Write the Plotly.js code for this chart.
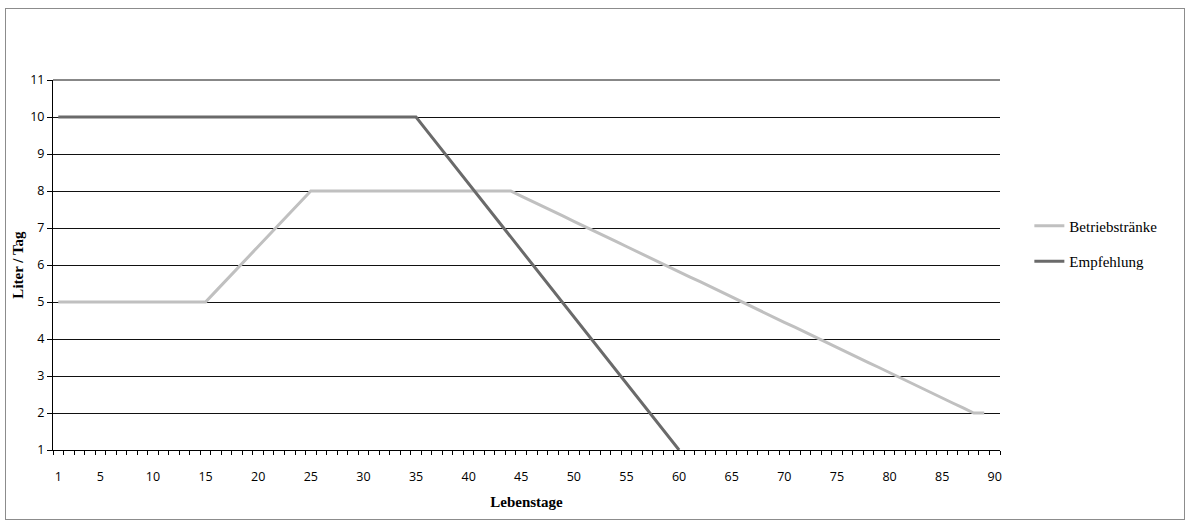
<!DOCTYPE html>
<html>
<head>
<meta charset="utf-8">
<script src="https://cdn.plot.ly/plotly-3.0.1.min.js"></script>
<style>
  html, body { margin: 0; padding: 0; background: #fff; }
  #wrap { position: relative; width: 1190px; height: 525px; }
  #chart { width: 1190px; height: 525px; }
  #frame { position: absolute; left: 5px; top: 8px; width: 1180px; height: 512px;
           border: 1px solid #8c8c8c; pointer-events: none; box-sizing: border-box; }
</style>
</head>
<body>
<div id="wrap">
  <div id="chart"></div>
  <div id="frame"></div>
</div>
<script>
// Lebenstage (days of life), one category per day
const days = [
  1, 2, 3, 4, 5, 6, 7, 8, 9, 10, 11, 12, 13, 14, 15, 16, 17, 18, 19, 20,
  21, 22, 23, 24, 25, 26, 27, 28, 29, 30, 31, 32, 33, 34, 35, 36, 37, 38, 39, 40,
  41, 42, 43, 44, 45, 46, 47, 48, 49, 50, 51, 52, 53, 54, 55, 56, 57, 58, 59, 60,
  61, 62, 63, 64, 65, 66, 67, 68, 69, 70, 71, 72, 73, 74, 75, 76, 77, 78, 79, 80,
  81, 82, 83, 84, 85, 86, 87, 88, 89, 90
];

// Liter / Tag, farm practice
const betriebstraenke = [
  5, 5, 5, 5, 5, 5, 5, 5, 5, 5, 5, 5, 5, 5, 5,
  5.3, 5.6, 5.9, 6.2, 6.5, 6.8, 7.1, 7.4, 7.7, 8.0,
  8, 8, 8, 8, 8, 8, 8, 8, 8, 8, 8, 8, 8, 8, 8, 8, 8, 8, 8,
  7.86, 7.73, 7.59, 7.45, 7.32, 7.18, 7.05, 6.91, 6.77, 6.64,
  6.50, 6.36, 6.23, 6.09, 5.95, 5.82, 5.68, 5.55, 5.41, 5.27,
  5.14, 5.00, 4.86, 4.73, 4.59, 4.45, 4.32, 4.18, 4.05, 3.91,
  3.77, 3.64, 3.50, 3.36, 3.23, 3.09, 2.95, 2.82, 2.68, 2.55,
  2.41, 2.27, 2.14, 2.0, 2.0
];

// Liter / Tag, recommendation
const empfehlung = [
  10, 10, 10, 10, 10, 10, 10, 10, 10, 10, 10, 10, 10, 10, 10, 10, 10, 10,
  10, 10, 10, 10, 10, 10, 10, 10, 10, 10, 10, 10, 10, 10, 10, 10, 10,
  9.64, 9.28, 8.92, 8.56, 8.20, 7.84, 7.48, 7.12, 6.76, 6.40, 6.04, 5.68, 5.32,
  4.96, 4.60, 4.24, 3.88, 3.52, 3.16, 2.80, 2.44, 2.08, 1.72, 1.36, 1.00
];

const xTickLabels = [1, 5, 10, 15, 20, 25, 30, 35, 40, 45, 50, 55, 60, 65, 70, 75, 80, 85, 90];
const yTickLabels = [1, 2, 3, 4, 5, 6, 7, 8, 9, 10, 11];

const tickFont = { family: 'Open Sans, Noto Sans, sans-serif', size: 12.5, color: '#000' };
const serifBold = { family: 'Liberation Serif, Times New Roman, serif', size: 15, color: '#000', weight: 'bold' };
const gridColor = '#111';

const traces = [
  {
    x: days.slice(0, betriebstraenke.length),
    y: betriebstraenke,
    name: 'Betriebstränke',
    legendgroup: 'a',
    type: 'scatter',
    mode: 'lines',
    line: { color: '#c0c0c0', width: 3 }
  },
  {
    x: days.slice(0, empfehlung.length),
    y: empfehlung,
    name: 'Empfehlung',
    legendgroup: 'b',
    type: 'scatter',
    mode: 'lines',
    line: { color: '#6a6a6a', width: 3 }
  }
];

const yMax = yTickLabels[yTickLabels.length - 1];

const layout = {
  width: 1190,
  height: 525,
  margin: { l: 53, r: 190, t: 80, b: 75 },
  paper_bgcolor: '#fff',
  plot_bgcolor: '#fff',
  showlegend: true,
  legend: {
    x: 1.031, y: 0.558, xanchor: 'left', yanchor: 'middle',
    font: { family: 'Liberation Serif, Times New Roman, serif', size: 15, color: '#000' },
    traceorder: 'grouped',
    tracegroupgap: 13,
    bgcolor: 'rgba(0,0,0,0)'
  },
  // gridline along the top edge of the plot area (the axis maximum)
  shapes: [
    { type: 'line', xref: 'paper', x0: 0, x1: 1, yref: 'paper', y0: 1, y1: 1,
      line: { color: gridColor, width: 1 }, layer: 'above' }
  ],
  xaxis: {
    type: 'linear',
    range: [0.5, 90.5],
    tickmode: 'array',
    tickvals: xTickLabels,
    ticktext: xTickLabels.map(String),
    ticks: '',
    tickfont: tickFont,
    showgrid: false,
    zeroline: false,
    showline: true,
    linecolor: '#000',
    linewidth: 1,
    minor: { tickmode: 'linear', tick0: 0.5, dtick: 1, ticks: 'outside', ticklen: 4, tickcolor: '#000', tickwidth: 1, showgrid: false },
    ticklabelstandoff: 15,
    title: { text: 'Lebenstage', font: serifBold, standoff: 12 },
    fixedrange: true
  },
  yaxis: {
    range: [1, yMax],
    tickmode: 'array',
    tickvals: yTickLabels,
    ticktext: yTickLabels.map(String),
    ticks: 'outside',
    ticklen: 5,
    tickcolor: '#000',
    tickfont: tickFont,
    showgrid: true,
    gridcolor: gridColor,
    gridwidth: 1,
    zeroline: false,
    showline: true,
    linecolor: '#000',
    linewidth: 1,
    title: { text: 'Liter / Tag', font: serifBold, standoff: 2 },
    fixedrange: true
  }
};

Plotly.newPlot('chart', traces, layout, { displayModeBar: false, staticPlot: true });
</script>
</body>
</html>
